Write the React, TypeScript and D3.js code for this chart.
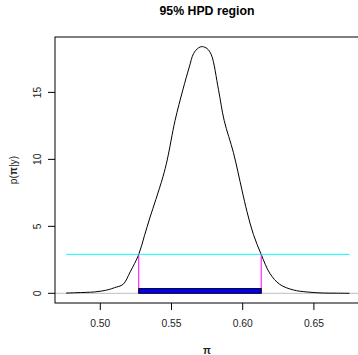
import React from "react";
import * as d3 from "d3";

const piGrid = [0.476, 0.482, 0.490, 0.496, 0.501, 0.506, 0.510, 0.516, 0.521, 0.527, 0.531, 0.535, 0.539, 0.544, 0.547, 0.5525, 0.558, 0.5625, 0.5655, 0.569, 0.5716, 0.575, 0.578, 0.583, 0.587, 0.5935, 0.5995, 0.603, 0.6075, 0.613, 0.619, 0.626, 0.6355, 0.645, 0.6565, 0.666, 0.675];
const density = [0.02, 0.04, 0.07, 0.10, 0.17, 0.28, 0.42, 0.67, 1.6, 2.9, 4.3, 5.7, 7.0, 8.7, 9.96, 12.9, 15.2, 16.9, 17.9, 18.33, 18.42, 18.27, 17.8, 15.2, 12.9, 10.5, 7.7, 6.1, 4.4, 2.9, 1.5, 0.67, 0.25, 0.10, 0.02, 0.01, 0.0];
const hpdBounds = [0.527, 0.613];
const hpdLevel = 2.91;
const barHeight = 0.35;
const xTicks = [0.5, 0.55, 0.6, 0.65];
const yTicks = [0, 5, 10, 15];
const titleText = "95% HPD region";

export default function App() {
  const W = 358, H = 355;
  const left = 55, right = 359, top = 37, bottom = 303;
  const x = d3.scaleLinear().domain([0.5, 0.65]).range([100.3, 313.9]);
  const y = d3.scaleLinear().domain([0, 15]).range([293.3, 92.4]);
  const pts = piGrid.map((p, i) => [p, density[i]] as [number, number]);
  const line = d3.line<[number, number]>().x(d => x(d[0])).y(d => y(d[1])).curve(d3.curveCatmullRom.alpha(0.5));
  const font = "'Liberation Sans', Arial, Helvetica, sans-serif";
  return (
    <svg width={W} height={H} style={{ position: "absolute", left: 0, top: 0 }} fontFamily={font}>
      <rect width={W} height={H} fill="white" />
      <text x={207} y={15} textAnchor="middle" fontWeight="bold" fontSize={12.3}>{titleText}</text>
      <defs>
        <clipPath id="plotclip"><rect x={left} y={top} width={right - left} height={bottom - top} /></clipPath>
      </defs>
      <g clipPath="url(#plotclip)">
        <line x1={left} x2={right} y1={y(0)} y2={y(0)} stroke="#bebebe" strokeWidth={1} />
        <path d={line(pts) || ""} fill="none" stroke="black" strokeWidth={1} />
        <line x1={x(piGrid[0])} x2={x(piGrid[piGrid.length - 1])} y1={y(hpdLevel)} y2={y(hpdLevel)} stroke="#00FFFF" strokeWidth={1} />
        {hpdBounds.map((b, i) => (
          <line key={i} x1={x(b)} x2={x(b)} y1={y(0)} y2={y(hpdLevel)} stroke="#FF00FF" strokeWidth={1} />
        ))}
        <rect x={x(hpdBounds[0])} y={y(barHeight)} width={x(hpdBounds[1]) - x(hpdBounds[0])} height={y(0) - y(barHeight)} fill="#0000FF" stroke="black" strokeWidth={1} />
      </g>
      <rect x={left} y={top} width={right - left} height={bottom - top} fill="none" stroke="black" strokeWidth={1} />
      {xTicks.map(t => (
        <g key={t}>
          <line x1={x(t)} x2={x(t)} y1={bottom} y2={bottom + 7} stroke="black" />
          <text x={x(t)} y={326.5} textAnchor="middle" fontSize={10.3} fill="#222">{t.toFixed(2)}</text>
        </g>
      ))}
      {yTicks.map(t => (
        <g key={t}>
          <line x1={left - 7} x2={left} y1={y(t)} y2={y(t)} stroke="black" />
          <text transform={`translate(40.5,${y(t)}) rotate(-90)`} textAnchor="middle" fontSize={10.3} fill="#222">{t}</text>
        </g>
      ))}
      <text transform={`translate(16.5,170) rotate(-90)`} textAnchor="middle" fontSize={10.3} fill="#222">p(<tspan fontWeight="bold">π</tspan>|y)</text>
      <text x={207} y={354} textAnchor="middle" fontSize={10.3} fontWeight="bold" fill="#222">π</text>
    </svg>
  );
}
